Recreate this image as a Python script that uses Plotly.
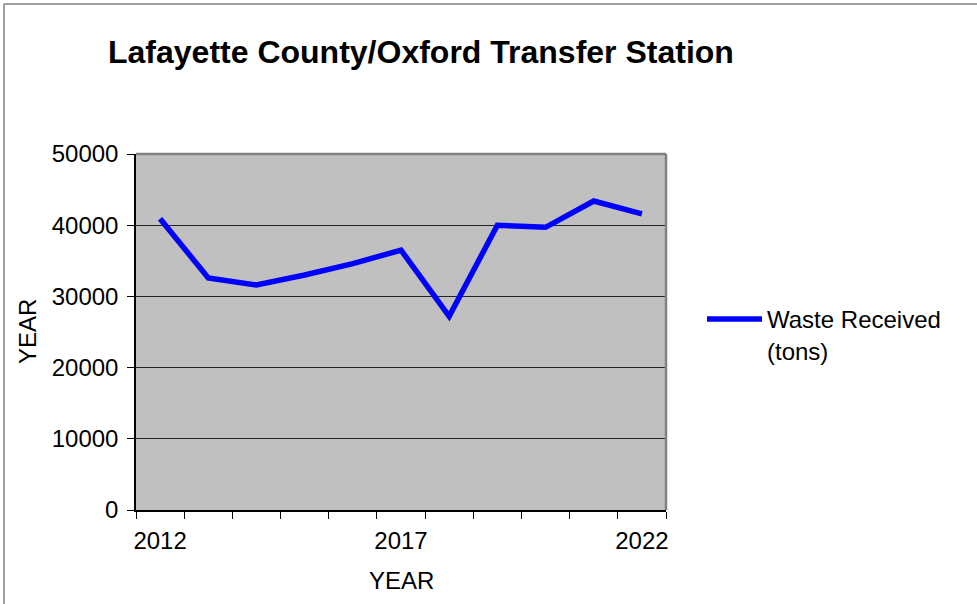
import plotly.graph_objects as go

years = [2012, 2013, 2014, 2015, 2016, 2017, 2018, 2019, 2020, 2021, 2022]
waste_tons = [40900, 32600, 31600, 33000, 34600, 36500, 27200, 40000, 39700, 43400, 41600]

x_tick_vals = [2012, 2017, 2022]
x_tick_text = ["2012", "2017", "2022"]
x_boundaries = [y - 0.5 for y in years] + [years[-1] + 0.5]
y_tick_vals = [0, 10000, 20000, 30000, 40000, 50000]

FONT = "Liberation Sans, Arial, sans-serif"

# plot area in pixels (from the reference)
L, R, T, B = 136, 666, 154, 510
W, H = 977, 604
pw, ph = R - L, B - T

fig = go.Figure(
    go.Scatter(
        x=years,
        y=waste_tons,
        mode="lines",
        name="Waste Received<br>(tons)",
        line=dict(color="#0000FF", width=5.5),
    )
)

fig.update_layout(
    width=W,
    height=H,
    margin=dict(l=L, r=W - R, t=T, b=H - B, autoexpand=False),
    paper_bgcolor="white",
    plot_bgcolor="#C0C0C0",
    font=dict(family=FONT, size=24, color="black"),
    title=dict(
        text="<b>Lafayette County/Oxford Transfer Station</b>",
        x=108 / W,
        xanchor="left",
        y=1 - 52 / H,
        yanchor="middle",
        font=dict(family=FONT, size=32, color="black"),
    ),
    showlegend=True,
    legend=dict(
        x=(702 - L) / pw,
        y=(B - 297) / ph,
        xanchor="left",
        yanchor="top",
        valign="top",
        bgcolor="rgba(0,0,0,0)",
        font=dict(family=FONT, size=24, color="black"),
        itemwidth=55,
    ),
    xaxis=dict(
        range=[years[0] - 0.5, years[-1] + 0.5],
        tickvals=x_tick_vals,
        ticktext=x_tick_text,
        ticks="",
        showgrid=False,
        zeroline=False,
        showline=True,
        linecolor="black",
        linewidth=1.5,
        ticklabelstandoff=8,
        minor=dict(
            tickvals=x_boundaries,
            ticks="outside",
            ticklen=7,
            tickcolor="black",
            tickwidth=1,
            showgrid=False,
        ),
    ),
    yaxis=dict(
        range=[0, 50000],
        tickvals=y_tick_vals,
        tickformat="d",
        ticks="outside",
        ticklen=7,
        tickcolor="black",
        showgrid=True,
        gridcolor="#222222",
        gridwidth=1,
        zeroline=False,
        showline=True,
        linecolor="black",
        linewidth=1.5,
        ticklabelstandoff=4,
    ),
    shapes=[
        # plot area border (top and right)
        dict(type="line", xref="paper", yref="paper", x0=0, x1=1, y0=1, y1=1,
             line=dict(color="#808080", width=2.5)),
        dict(type="line", xref="paper", yref="paper", x0=1, x1=1, y0=0, y1=1,
             line=dict(color="#808080", width=2.5)),
        # chart border
        dict(type="line", xref="paper", yref="paper",
             x0=(4 - L) / pw, x1=(W + 20 - L) / pw, y0=(B - 4) / ph, y1=(B - 4) / ph,
             line=dict(color="#808080", width=1.5)),
        dict(type="line", xref="paper", yref="paper",
             x0=(4 - L) / pw, x1=(4 - L) / pw, y0=(B - H - 20) / ph, y1=(B - 4) / ph,
             line=dict(color="#808080", width=1.5)),
    ],
    annotations=[
        dict(text="YEAR", xref="paper", yref="paper",
             x=(401 - L) / pw, y=(B - 580) / ph, xanchor="center", yanchor="middle",
             showarrow=False, font=dict(family=FONT, size=24, color="black")),
        dict(text="YEAR", xref="paper", yref="paper", textangle=-90,
             x=(27 - L) / pw, y=0.5, xanchor="center", yanchor="middle",
             showarrow=False, font=dict(family=FONT, size=24, color="black")),
    ],
)

# drop the default page margin so the figure sits at the window's corner
fig.write_html(
    "out.html",
    config={"displayModeBar": False},
    post_script="document.body.style.margin='0';",
)
